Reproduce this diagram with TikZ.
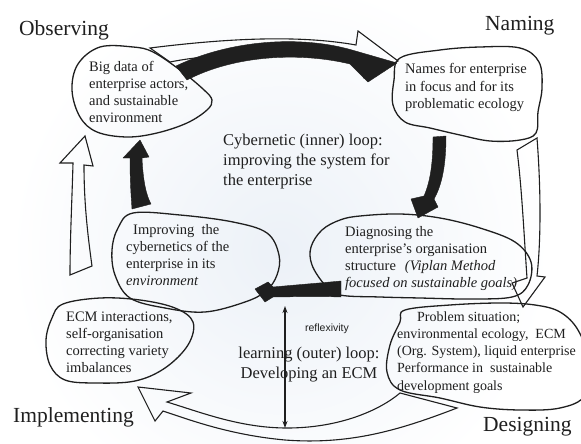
\documentclass[tikz,border=0pt]{standalone}
\usepackage{fontspec}
\setmainfont{Liberation Serif}
\newfontfamily\smallsans{Liberation Sans}
\usetikzlibrary{arrows.meta}
\newcommand{\linesleft}[1]{\begin{tabular}[t]{@{}l@{}}#1\end{tabular}}
\newcommand{\linescentre}[1]{\begin{tabular}[t]{@{}c@{}}#1\end{tabular}}
\definecolor{ink}{rgb}{0.12,0.12,0.12}
\definecolor{haze}{rgb}{0.925,0.945,0.97}
\begin{document}
\begin{tikzpicture}[x=1pt,y=-1pt,
  blob/.style={draw=ink, line width=1.3pt, line join=round},
  hollow/.style={draw=ink, line width=1.1pt, line join=miter},
  solidarrow/.style={fill=ink, draw=ink, line width=0.4pt, line join=round},
  boxtext/.style={anchor=base west, inner sep=0pt, text=ink, font=\fontsize{14.5}{17.3}\selectfont},
  looptext/.style={anchor=base west, inner sep=0pt, text=ink, font=\fontsize{16.5}{20}\selectfont},
  stagelabel/.style={anchor=base west, inner sep=0pt, text=ink, font=\fontsize{21.5}{24}\selectfont},
]
\useasboundingbox (0,0) rectangle (581,444);
\fill[white] (0,0) rectangle (581,444);
\shade[inner color=haze, outer color=white] (280,250) circle (270);

% stage labels
\node[stagelabel] (observing) at (19,36) {Observing};
\node[stagelabel] (naming) at (485,31) {Naming};
\node[stagelabel] (implementing) at (13,422) {Implementing};
\node[stagelabel] (designing) at (483,431) {Designing};

% outer (learning) loop: hollow arrows
\draw[hollow] (150,48) .. controls (230,38) and (300,35) .. (356,45)
  -- (358,31) -- (398,61) -- (364,78) -- (356,60)
  .. controls (300,50) and (220,52) .. (170,62) -- cycle;
\draw[hollow] (517,150) -- (537,138) .. controls (541,190) and (541,240) .. (537,276)
  -- (545,277) -- (523,307) -- (512,283) -- (527,278)
  .. controls (524,235) and (522,190) .. (517,150) -- cycle;
\draw[hollow] (457,408) .. controls (400,430) and (350,445) .. (285,440)
  .. controls (230,435) and (190,420) .. (163,411)
  -- (155,421) -- (138,387) -- (191,393) -- (167,402)
  .. controls (200,412) and (240,428) .. (287,428)
  .. controls (340,428) and (380,410) .. (400,393) -- cycle;
\draw[hollow] (70,275) -- (92,266) .. controls (87,230) and (84,200) .. (84,165)
  -- (93,166) -- (85,136) -- (60,163) -- (73,163)
  .. controls (72,200) and (70,240) .. (70,275) -- cycle;

% hand-drawn outlines round each stage
\draw[blob] plot[smooth cycle, tension=0.6] coordinates {
  (100,47) (78,64) (72,90) (80,117) (97,132) (127,137) (157,133) (187,123)
  (207,110) (212,100) (203,89) (180,70) (153,52) (133,47)};
\draw[blob] plot[smooth cycle, tension=0.6] coordinates {
  (400,58) (440,50) (480,47) (520,48) (539,62) (542,88) (538,112) (536,133)
  (520,140) (490,141) (460,135) (430,128) (405,122) (393,105) (394,80)};
\draw[blob] plot[smooth cycle, tension=0.6] coordinates {
  (340,220) (360,216) (400,214) (440,218) (480,228) (515,242) (531,262)
  (528,285) (512,297) (470,299) (420,298) (380,297) (340,295) (325,285)
  (312,265) (311,247) (322,230)};
\draw[blob] plot[smooth cycle, tension=0.6] coordinates {
  (133,213) (180,215) (233,222) (267,233) (279,255) (277,275) (266,291)
  (245,302) (205,312) (165,308) (130,298) (115,275) (112,250) (118,228)};
\draw[blob] plot[smooth cycle, tension=0.6] coordinates {
  (63,304) (100,298) (140,300) (175,308) (193,322) (188,345) (165,368)
  (135,381) (95,383) (65,380) (50,365) (46,340) (52,318)};
\draw[blob] plot[smooth cycle, tension=0.6] coordinates {
  (405,310) (450,305) (500,303) (535,305) (560,312) (578,330) (588,360)
  (585,395) (560,408) (520,410) (480,407) (440,398) (400,390) (387,372)
  (390,345) (400,322)};

% cybernetic (inner) loop: solid arrows
\fill[solidarrow] (176,66) .. controls (230,40) and (300,35) .. (352,50)
  -- (397,63) -- (368,82) -- (350,64)
  .. controls (300,52) and (235,55) .. (187,80) -- cycle;
\fill[solidarrow] (433,137) -- (446,136) .. controls (446,165) and (442,185) .. (434,199)
  -- (438,207) -- (418,218) -- (411,199) -- (424,196)
  .. controls (431,180) and (433,160) .. (433,137) -- cycle;
\fill[solidarrow] (341,281) -- (341,297) .. controls (310,296) and (290,297) .. (273,297)
  -- (265,302) -- (255,289) -- (268,282) -- (273,287)
  .. controls (295,285) and (320,283) .. (341,281) -- cycle;
\fill[solidarrow] (132,209) -- (151,204) .. controls (146,195) and (143,180) .. (142,158)
  -- (149,157) -- (140,140) -- (123,158) -- (130,158)
  .. controls (130,180) and (131,195) .. (132,209) -- cycle;

% reflexivity link between the two loops
\draw[ink, line width=1.2pt, {Stealth[length=7pt,width=5pt]}-{Stealth[length=7pt,width=5pt]}]
  (285,306) -- (285,428);

% stage texts
\node[boxtext] (bigdata) at (89,71) {\linesleft{Big data of\\enterprise actors,\\and sustainable\\environment}};
\node[boxtext] (names) at (405,74) {\linesleft{Names for enterprise\\in focus and for its\\problematic ecology}};
\node[boxtext] (diagnosing) at (345,236) {\linesleft{Diagnosing the\\enterprise’s organisation\\structure\hspace{9pt}\textit{(Viplan Method}\\\textit{focused on sustainable goals)}}};
\node[boxtext] (improving) at (126,234) {\linesleft{\hspace{7pt}Improving\ \ the\\cybernetics of the\\enterprise in its\\\textit{environment}}};
\node[boxtext] (ecm) at (66,321) {\linesleft{ECM interactions,\\self-organisation\\correcting variety\\imbalances}};
\node[boxtext, font=\fontsize{14}{17.3}\selectfont] (problem) at (397,321) {\linesleft{\hspace{20pt}Problem situation;\\environmental ecology,\ \ ECM\\(Org. System), liquid enterprise\\Performance in\ \ sustainable\\development goals}};

% loop captions
\node[looptext] (inner) at (223,145) {\linesleft{Cybernetic (inner) loop:\\improving the system for\\the enterprise}};
\node[looptext, anchor=base] (outer) at (309,358) {\linescentre{learning (outer) loop:\\Developing an ECM}};
\node[inner sep=0pt, text=ink, font=\smallsans\fontsize{10.5}{12}\selectfont] (reflexivity) at (327,329) {reflexivity};
\end{tikzpicture}
\end{document}
